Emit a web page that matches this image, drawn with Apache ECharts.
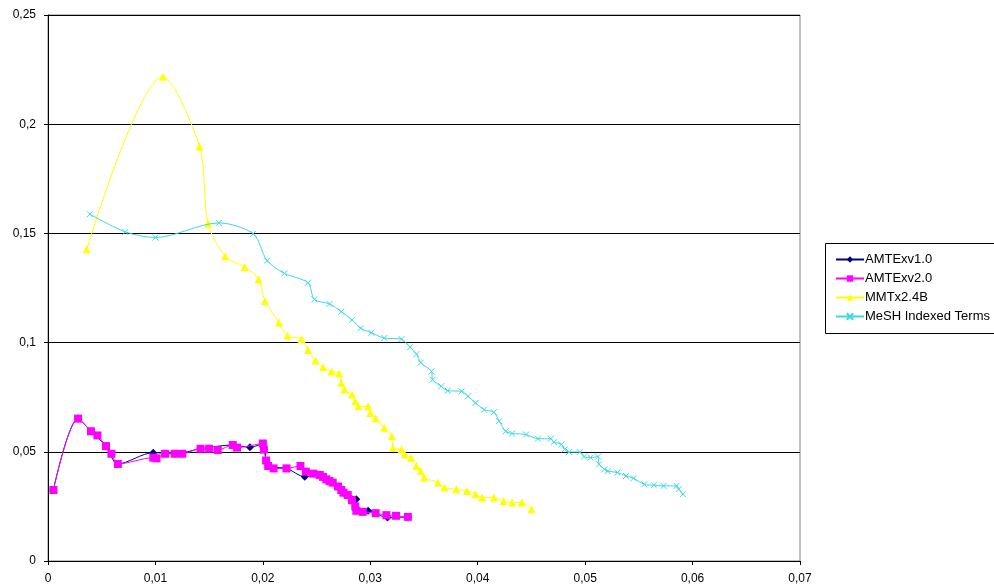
<!DOCTYPE html>
<html>
<head>
<meta charset="utf-8">
<script src="https://cdn.jsdelivr.net/npm/echarts@6/dist/echarts.min.js"></script>
<style>
html,body{margin:0;padding:0;background:#fff;}
#c{width:994px;height:588px;}
</style>
</head>
<body>
<div id="c"></div>
<script>
const seriesNames = ['AMTExv1.0', 'AMTExv2.0', 'MMTx2.4B', 'MeSH Indexed Terms'];
const xTicks = [0, 0.01, 0.02, 0.03, 0.04, 0.05, 0.06, 0.07];
const yTicks = [0, 0.05, 0.1, 0.15, 0.2, 0.25];

const amtexV1 = [[0.0005,0.0325],[0.0028,0.0652],[0.0040,0.0594],[0.0054,0.0526],[0.0065,0.0444],[0.0098,0.0496],[0.0118,0.0491],[0.0142,0.0514],[0.0172,0.0531],[0.0188,0.0521],[0.0200,0.0536],[0.0205,0.0435],[0.0222,0.0424],[0.0239,0.0386],[0.0253,0.0394],[0.0265,0.0359],[0.0275,0.0313],[0.0287,0.0283],[0.0287,0.0230],[0.0298,0.0230],[0.0316,0.0199],[0.0335,0.0202]];

const amtexV2 = [[0.0005,0.0325],[0.0028,0.0652],[0.0040,0.0594],[0.0046,0.0575],[0.0054,0.0526],[0.0059,0.0491],[0.0065,0.0444],[0.0098,0.0473],[0.0101,0.0470],[0.0109,0.0491],[0.0118,0.0491],[0.0125,0.0491],[0.0142,0.0514],[0.0150,0.0514],[0.0158,0.0508],[0.0172,0.0531],[0.0176,0.0519],[0.0200,0.0538],[0.0201,0.0510],[0.0203,0.0460],[0.0205,0.0435],[0.0210,0.0424],[0.0222,0.0424],[0.0235,0.0435],[0.0240,0.0409],[0.0247,0.0400],[0.0253,0.0394],[0.0256,0.0385],[0.0259,0.0374],[0.0262,0.0366],[0.0265,0.0359],[0.0270,0.0341],[0.0273,0.0325],[0.0275,0.0313],[0.0279,0.0302],[0.0283,0.0278],[0.0286,0.0250],[0.0287,0.0230],[0.0293,0.0225],[0.0305,0.0219],[0.0315,0.0210],[0.0324,0.0207],[0.0335,0.0202]];

const mmtx = [[0.0036,0.1427],[0.0107,0.2217],[0.0141,0.1898],[0.0149,0.1545],[0.0165,0.1395],[0.0183,0.1346],[0.0196,0.1290],[0.0202,0.1191],[0.0215,0.1092],[0.0223,0.1031],[0.0236,0.1016],[0.0242,0.0967],[0.0249,0.0918],[0.0256,0.0887],[0.0264,0.0868],[0.0271,0.0858],[0.0273,0.0815],[0.0276,0.0785],[0.0283,0.0762],[0.0286,0.0731],[0.0289,0.0708],[0.0298,0.0708],[0.0300,0.0678],[0.0305,0.0654],[0.0313,0.0610],[0.0320,0.0572],[0.0321,0.0519],[0.0329,0.0511],[0.0332,0.0488],[0.0338,0.0473],[0.0343,0.0435],[0.0347,0.0412],[0.0350,0.0382],[0.0363,0.0359],[0.0369,0.0336],[0.0380,0.0328],[0.0390,0.0321],[0.0398,0.0306],[0.0404,0.0291],[0.0415,0.0291],[0.0424,0.0275],[0.0432,0.0268],[0.0441,0.0268],[0.0450,0.0237]];

const mesh = [[0.0039,0.1588],[0.0072,0.1507],[0.0100,0.1481],[0.0159,0.1548],[0.0191,0.1498],[0.0204,0.1375],[0.0220,0.1317],[0.0242,0.1274],[0.0248,0.1198],[0.0262,0.1177],[0.0273,0.1142],[0.0283,0.1104],[0.0291,0.1066],[0.0301,0.1045],[0.0313,0.1021],[0.0329,0.1016],[0.0337,0.0979],[0.0343,0.0947],[0.0347,0.0908],[0.0357,0.0868],[0.0358,0.0830],[0.0366,0.0800],[0.0372,0.0780],[0.0385,0.0777],[0.0391,0.0754],[0.0398,0.0724],[0.0406,0.0693],[0.0415,0.0681],[0.0420,0.0640],[0.0426,0.0594],[0.0432,0.0584],[0.0445,0.0579],[0.0456,0.0560],[0.0468,0.0560],[0.0471,0.0544],[0.0478,0.0534],[0.0481,0.0511],[0.0485,0.0499],[0.0495,0.0499],[0.0499,0.0478],[0.0505,0.0473],[0.0512,0.0478],[0.0513,0.0443],[0.0518,0.0420],[0.0521,0.0412],[0.0530,0.0405],[0.0538,0.0389],[0.0545,0.0379],[0.0555,0.0351],[0.0564,0.0347],[0.0573,0.0344],[0.0585,0.0344],[0.0587,0.0329],[0.0591,0.0306]];

const fmt = v => (v === 0 ? '0' : String(+v.toFixed(4)).replace('.', ','));
const FONT = '"Liberation Sans", Arial, sans-serif';
const xPath = 'path://M0,0 L10,10 M10,0 L0,10';

const chart = echarts.init(document.getElementById('c'), null, {renderer: 'canvas'});
chart.setOption({
  animation: false,
  backgroundColor: '#fff',
  grid: {left: 48, top: 15, width: 752, height: 546, show: true, borderColor: '#808080', borderWidth: 1, backgroundColor: 'transparent'},
  xAxis: {
    type: 'value', min: xTicks[0], max: xTicks[xTicks.length - 1], interval: 0.01,
    axisLine: {show: true, onZero: false, lineStyle: {color: '#000', width: 1}},
    axisTick: {show: true, inside: false, length: 4, lineStyle: {color: '#000'}},
    axisLabel: {formatter: fmt, color: '#000', fontSize: 12, fontFamily: FONT, margin: 12},
    splitLine: {show: false}
  },
  yAxis: {
    type: 'value', min: yTicks[0], max: yTicks[yTicks.length - 1], interval: 0.05,
    axisLine: {show: true, lineStyle: {color: '#000', width: 1}},
    axisTick: {show: true, inside: false, length: 4, lineStyle: {color: '#000'}},
    axisLabel: {formatter: fmt, color: '#000', fontSize: 12, fontFamily: FONT, margin: 12},
    splitLine: {show: true, lineStyle: {color: '#000', width: 1}}
  },
  legend: {
    orient: 'vertical', left: 830, top: 248,
    itemWidth: 28, itemHeight: 8, itemGap: 6,
    textStyle: {fontSize: 13, fontFamily: FONT, color: '#000', padding: [0, 0, 0, -4]},
    data: seriesNames
  },
  graphic: [{
    type: 'rect', left: 823, top: 241, shape: {width: 180, height: 90},
    style: {fill: 'none', stroke: '#000', lineWidth: 1}, z: 0
  }],
  series: [
    {name: seriesNames[0], type: 'line', data: amtexV1, smooth: 0.3, symbol: 'diamond', symbolSize: 8,
     lineStyle: {color: '#000080', width: 1}, itemStyle: {color: '#000080'}, z: 2},
    {name: seriesNames[1], type: 'line', data: amtexV2, smooth: 0.3, symbol: 'rect', symbolSize: 8,
     lineStyle: {color: '#FF00FF', width: 1}, itemStyle: {color: '#FF00FF'}, z: 3},
    {name: seriesNames[2], type: 'line', data: mmtx, smooth: 0.3, symbol: 'triangle', symbolSize: 8,
     lineStyle: {color: '#FFFF00', width: 1}, itemStyle: {color: '#FFFF00'}, z: 4},
    {name: seriesNames[3], type: 'line', data: mesh, smooth: 0.3, symbol: xPath, symbolSize: 6,
     lineStyle: {color: '#3CD8E4', width: 1}, itemStyle: {color: '#3CD8E4', borderColor: '#3CD8E4', borderWidth: 1}, z: 5}
  ]
});
</script>
</body>
</html>
